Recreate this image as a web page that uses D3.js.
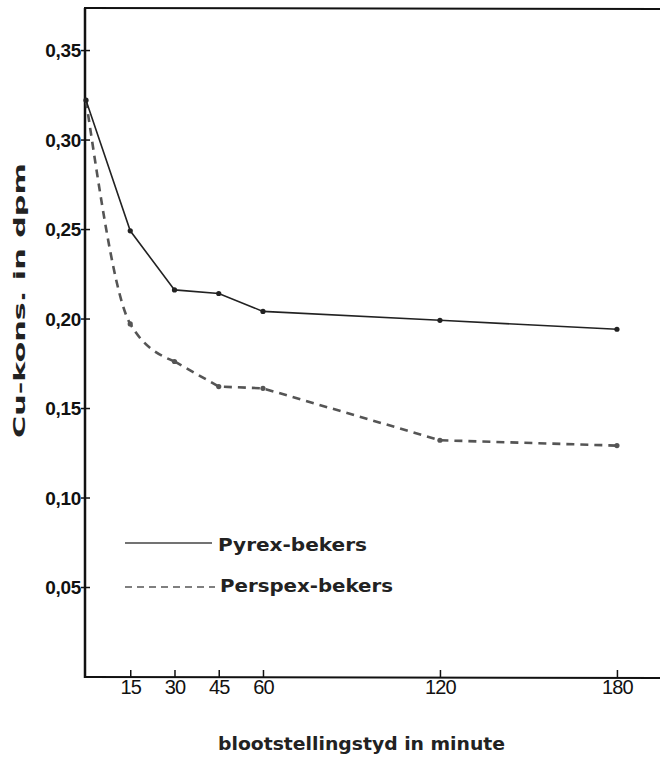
<!DOCTYPE html>
<html><head><meta charset="utf-8">
<script src="https://cdn.jsdelivr.net/npm/d3@7"></script>
<style>body{margin:0;background:#fff}svg{display:block}</style>
</head><body>
<script>
const times = [0, 15, 30, 45, 60, 120, 180];
const pyrex = [0.322, 0.249, 0.216, 0.214, 0.204, 0.199, 0.194];
const perspex = [0.322, 0.197, 0.176, 0.162, 0.161, 0.132, 0.129];
const xTicks = [15, 30, 45, 60, 120, 180];
const yTicks = [0.05, 0.10, 0.15, 0.20, 0.25, 0.30, 0.35];
const seriesNames = ["Pyrex-bekers", "Perspex-bekers"];

const W = 660, H = 760;
const svg = d3.select("body").append("svg").attr("width", W).attr("height", H);
const x = d3.scaleLinear().domain([0, 194.6]).range([86, 660]);
const y = d3.scaleLinear().domain([0, 0.3735]).range([676.5, 8]);
const font = "'Liberation Sans', Arial, sans-serif";
const boldFont = "'DejaVu Sans', 'Liberation Sans', sans-serif";

// frame: left axis, top line, bottom axis
svg.append("line").attr("x1", 85).attr("x2", 85).attr("y1", 8).attr("y2", 678)
  .attr("stroke", "#111").attr("stroke-width", 2.5);
svg.append("line").attr("x1", 84).attr("x2", 660).attr("y1", 8).attr("y2", 9)
  .attr("stroke", "#111").attr("stroke-width", 2);
svg.append("line").attr("x1", 84).attr("x2", 660).attr("y1", 677).attr("y2", 678)
  .attr("stroke", "#111").attr("stroke-width", 2);

// y ticks
const yAxis = svg.append("g").attr("transform", "translate(85,0)")
  .call(d3.axisLeft(y).tickValues(yTicks).tickSize(4)
    .tickFormat(d => d3.format(".2f")(d).replace(".", ",")));
yAxis.select(".domain").remove();
yAxis.selectAll(".tick line").attr("x1", 5).attr("x2", -4).attr("stroke", "#111").attr("stroke-width", 1.5);
yAxis.selectAll(".tick text").attr("x", -4).attr("dy", "0.36em").attr("font-family", font)
  .attr("font-weight", "bold").attr("font-size", 19).attr("fill", "#111").style("letter-spacing", "-0.3px");

// x ticks
const xAxis = svg.append("g").attr("transform", "translate(0,677)")
  .call(d3.axisBottom(x).tickValues(xTicks).tickSize(0));
xAxis.select(".domain").remove();
xAxis.selectAll(".tick line").attr("y1", -7).attr("y2", 1).attr("stroke", "#111").attr("stroke-width", 1.5);
xAxis.selectAll(".tick text").attr("y", 3).attr("dy", "0.71em").attr("font-family", font)
  .attr("font-size", 20).attr("fill", "#111").style("letter-spacing", "-0.8px");

// lines
const pyData = times.map((t, i) => [t, pyrex[i]]);
const peData = times.map((t, i) => [t, perspex[i]]);
const dash = "8,6";
svg.append("path").datum(peData.slice(0, 3))
  .attr("d", d3.line().x(d => x(d[0])).y(d => y(d[1])).curve(d3.curveMonotoneX))
  .attr("fill", "none").attr("stroke", "#555").attr("stroke-width", 2.6)
  .attr("stroke-dasharray", dash);
svg.append("path").datum(peData.slice(2))
  .attr("d", d3.line().x(d => x(d[0])).y(d => y(d[1])))
  .attr("fill", "none").attr("stroke", "#555").attr("stroke-width", 2.6)
  .attr("stroke-dasharray", dash);
svg.append("path").datum(pyData)
  .attr("d", d3.line().x(d => x(d[0])).y(d => y(d[1])))
  .attr("fill", "none").attr("stroke", "#222").attr("stroke-width", 1.6);
svg.selectAll(".pp").data(pyData).enter().append("circle")
  .attr("cx", d => x(d[0])).attr("cy", d => y(d[1])).attr("r", 2.6).attr("fill", "#222");
svg.selectAll(".pe").data(peData.slice(1)).enter().append("circle")
  .attr("cx", d => x(d[0])).attr("cy", d => y(d[1])).attr("r", 2.6).attr("fill", "#555");

// legend
svg.append("line").attr("x1", 125).attr("x2", 212).attr("y1", 543).attr("y2", 543)
  .attr("stroke", "#444").attr("stroke-width", 1.6);
svg.append("text").attr("x", 218).attr("y", 551).text(seriesNames[0])
  .attr("textLength", 149).attr("lengthAdjust", "spacingAndGlyphs")
  .attr("font-family", boldFont).attr("font-weight", "bold").attr("font-size", 18).attr("fill", "#222");
svg.append("line").attr("x1", 125).attr("x2", 215).attr("y1", 587).attr("y2", 587)
  .attr("stroke", "#555").attr("stroke-width", 1.6).attr("stroke-dasharray", "7,5");
svg.append("text").attr("x", 220).attr("y", 592).text(seriesNames[1])
  .attr("textLength", 173).attr("lengthAdjust", "spacingAndGlyphs")
  .attr("font-family", boldFont).attr("font-weight", "bold").attr("font-size", 18).attr("fill", "#222");

// axis titles
svg.append("text").attr("x", 218).attr("y", 750)
  .text("blootstellingstyd in minute").attr("textLength", 287).attr("lengthAdjust", "spacingAndGlyphs")
  .attr("font-family", boldFont).attr("font-weight", "bold").attr("font-size", 17).attr("fill", "#222");
svg.append("text").attr("transform", "translate(25,438) rotate(-90)")
  .text("Cu-kons. in dpm").attr("textLength", 275).attr("lengthAdjust", "spacingAndGlyphs")
  .attr("font-family", boldFont).attr("font-weight", "bold").attr("font-size", 16).attr("fill", "#222");
</script>
</body></html>
